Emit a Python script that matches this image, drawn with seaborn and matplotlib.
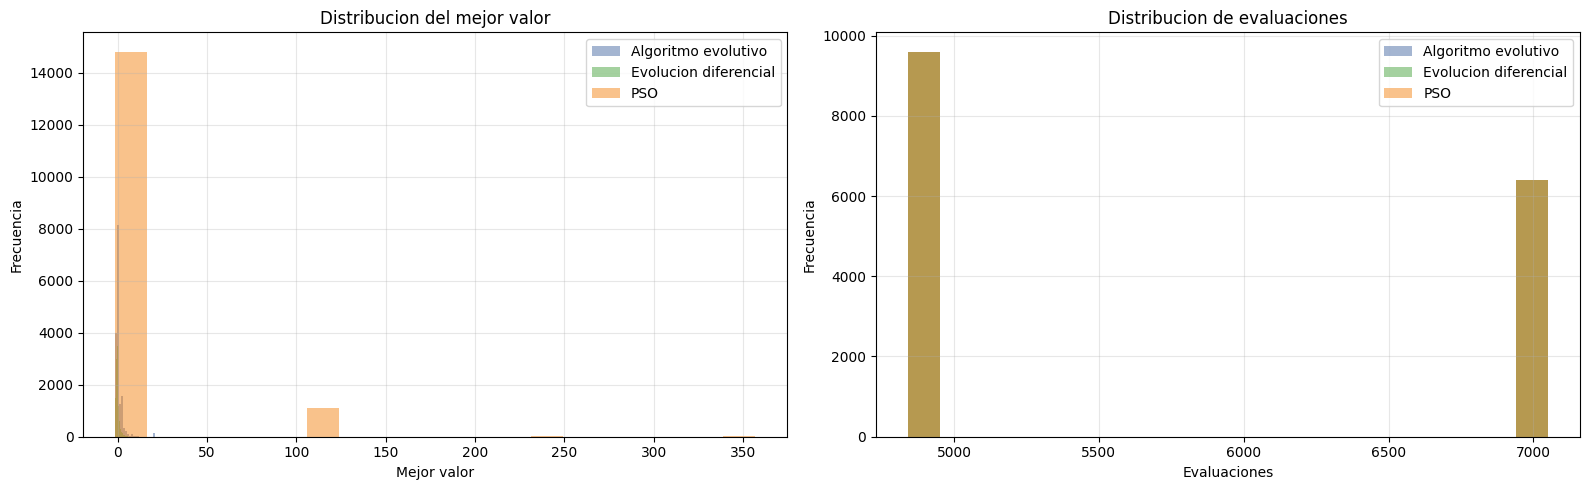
"""Histogramas del mejor valor y de las evaluaciones por algoritmo."""

import numpy as np
import matplotlib
matplotlib.use("Agg")
import matplotlib.pyplot as plt
import seaborn as sns

# Nombres y colores de los algoritmos
algoritmos = ["Algoritmo evolutivo", "Evolucion diferencial", "PSO"]
colores = ["#4a6ca5", "#4ba541", "#f58719"]

# Mejor valor: rango (min, max) y conteos de 20 bins por algoritmo
rango_ae = (-1.5, 20.6)
conteo_ae = [4000, 8150, 1270, 1570, 350, 230, 100, 40, 100, 20,
             10, 10, 0, 0, 0, 0, 0, 0, 0, 150]
rango_ed = (-1.5, 5.5)
conteo_ed = [1500, 2500, 3000, 3500, 2000, 1200, 600, 400, 300, 250,
             200, 150, 100, 80, 60, 50, 40, 30, 20, 20]
rango_pso = (-1.5, 357.0)
conteo_pso = [14820, 0, 0, 0, 0, 0, 1120, 0, 0, 0,
              0, 0, 0, 35, 0, 0, 0, 0, 0, 35]

# Evaluaciones: los tres algoritmos dan la misma distribucion
evaluaciones = [4840, 7050]
conteo_eval = [9600, 6400]


def centros_bins(rango, conteos):
    """Centros de los bins a partir del rango y los conteos."""
    bordes = np.linspace(rango[0], rango[1], len(conteos) + 1)
    return (bordes[:-1] + bordes[1:]) / 2


fig, axs = plt.subplots(1, 2, figsize=(16, 5), dpi=100)

# Distribucion del mejor valor
ax = axs[0]
series = [(rango_ae, conteo_ae), (rango_ed, conteo_ed), (rango_pso, conteo_pso)]
for (rango, conteos), nombre, color in zip(series, algoritmos, colores):
    centros = centros_bins(rango, conteos)
    sns.histplot(x=centros, weights=conteos, bins=len(conteos), binrange=rango,
                 ax=ax, color=color, alpha=0.5, linewidth=0, label=nombre)
ax.set_title("Distribucion del mejor valor", fontsize=12)
ax.set_xlabel("Mejor valor")
ax.set_ylabel("Frecuencia")
ax.grid(True, alpha=0.3)
ax.legend(loc="upper right")

# Distribucion de evaluaciones
ax = axs[1]
rango_eval = (min(evaluaciones), max(evaluaciones))
for nombre, color in zip(algoritmos, colores):
    sns.histplot(x=evaluaciones, weights=conteo_eval, bins=20, binrange=rango_eval,
                 ax=ax, color=color, alpha=0.5, linewidth=0, label=nombre)
ax.set_title("Distribucion de evaluaciones", fontsize=12)
ax.set_xlabel("Evaluaciones")
ax.set_ylabel("Frecuencia")
ax.grid(True, alpha=0.3)
ax.legend(loc="upper right")

plt.tight_layout()
plt.savefig("out.png", dpi=100, bbox_inches="tight")
